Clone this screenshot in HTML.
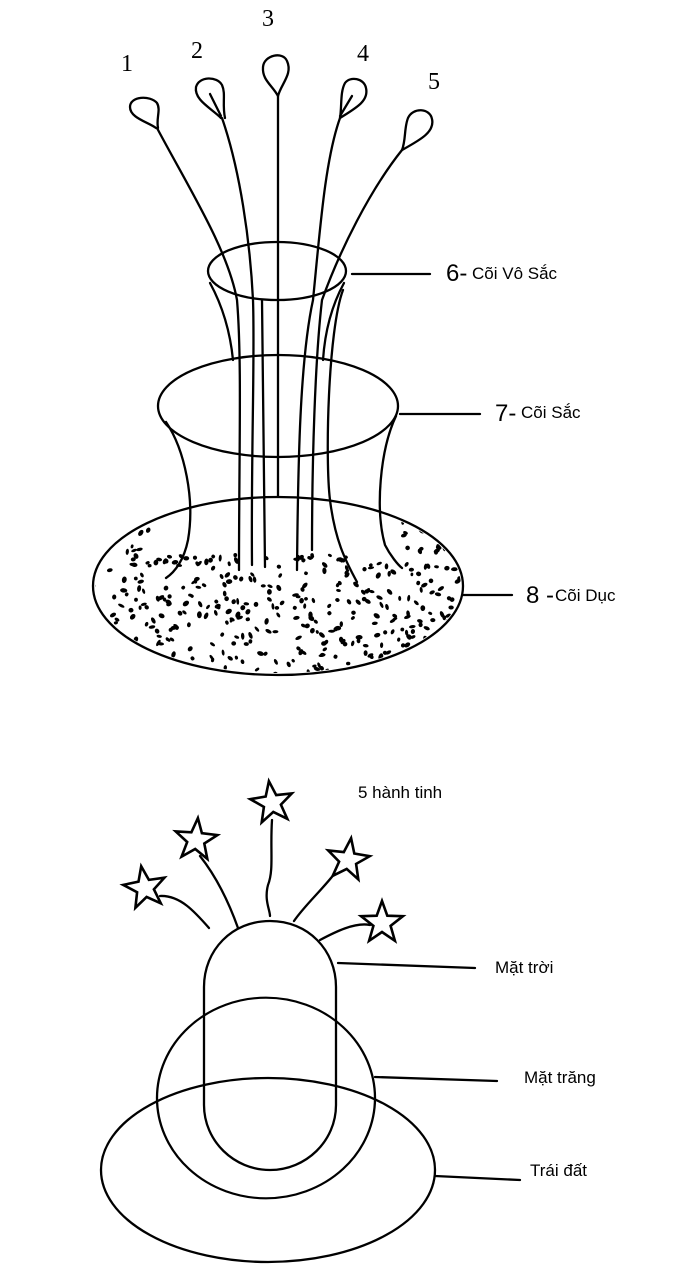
<!DOCTYPE html>
<html><head><meta charset="utf-8"><style>
html,body{margin:0;padding:0;background:#fff}
svg{display:block}
.n{font-family:"Liberation Serif",serif;font-size:24px}
.l{font-family:"Liberation Sans",sans-serif;font-size:17px}
.b{font-family:"Liberation Sans",sans-serif;font-size:24px}
</style></head><body>
<svg id="s" width="700" height="1274" viewBox="0 0 700 1274" xmlns="http://www.w3.org/2000/svg" fill="none" stroke="#000" stroke-width="2.3" stroke-linecap="round">
<defs><clipPath id="c8"><ellipse cx="278" cy="586" rx="183" ry="87"/></clipPath></defs>
<g id="dots" clip-path="url(#c8)" fill="#000" stroke="none"></g>
<g class="n" fill="#000" stroke="none" text-anchor="middle">
<text x="127" y="71">1</text><text x="197" y="58">2</text><text x="268" y="26">3</text><text x="363" y="61">4</text><text x="434" y="89">5</text>
</g>
<path d="M156,128 C148,122 130,118 130,107 C130,96 150,95 157,103 C161,110 156,118 158,128"/>
<path d="M221,118 C211,108 194,100 196,87 C199,76 217,76 222,85 C226,94 222,104 225,118 M210,94 L221,116"/>
<path d="M278,96 C272,85 262,80 263,67 C264,55 283,51 287,61 C293,74 281,84 278,96"/>
<path d="M340,118 C342,106 340,92 345,83 C350,76 364,78 366,88 C369,101 356,108 340,118 M352,96 L340,116"/>
<path d="M402,150 C406,140 404,128 408,118 C413,107 430,108 432,119 C435,132 420,140 402,150"/>
<path d="M157,128 C190,190 228,250 237,300 C242,360 239,450 239,570"/>
<path d="M222,118 C240,170 250,240 253,300 C255,360 251,450 252,565"/>
<path d="M278,96 L278,497"/>
<path d="M340,118 C325,160 320,230 313,300 C300,360 298,460 297,570"/>
<path d="M402,150 C370,190 340,250 322,300 C315,360 312,460 312,550"/>
<path d="M343,290 C328,330 325,460 330,500 C335,540 345,560 357,582"/>
<path d="M262,300 L265,567"/>
<ellipse cx="277" cy="271" rx="69" ry="29"/>
<path d="M210,283 C222,305 230,330 233,360"/>
<path d="M344,283 C332,305 325,330 323,360"/>
<ellipse cx="278" cy="406" rx="120" ry="51"/>
<path d="M166,422 C185,450 195,500 188,540 C184,560 175,572 166,578"/>
<path d="M396,416 C380,450 375,510 385,545 C390,555 398,565 402,568"/>
<ellipse cx="278" cy="586" rx="185" ry="89"/>
<line x1="352" y1="274" x2="430" y2="274"/>
<line x1="400" y1="414" x2="480" y2="414"/>
<line x1="463" y1="595" x2="512" y2="595"/>
<g fill="#000" stroke="none">
<text class="b" x="446" y="281">6-</text><text class="l" x="472" y="279">Cõi Vô Sắc</text>
<text class="b" x="495" y="421">7-</text><text class="l" x="521" y="418">Cõi Sắc</text>
<text class="b" x="526" y="603">8 -</text><text class="l" x="555" y="601">Cõi Dục</text>
<text class="l" x="358" y="798">5 hành tinh</text>
<text class="l" x="495" y="973">Mặt trời</text>
<text class="l" x="524" y="1083">Mặt trăng</text>
<text class="l" x="530" y="1176">Trái đất</text>
</g>
<path d="M204,987 C204,950 232,921 270,921 C308,921 336,950 336,987 L336,1105 C336,1141 306,1170 270,1170 C234,1170 204,1141 204,1105 Z"/>
<circle cx="266" cy="1098" r="109" transform="translate(266 1098) scale(1 0.92) translate(-266 -1098)"/>
<ellipse cx="268" cy="1170" rx="167" ry="92"/>
<line x1="338" y1="963" x2="475" y2="968"/>
<line x1="375" y1="1077" x2="497" y2="1081"/>
<line x1="435" y1="1176" x2="520" y2="1180"/>
<path d="M160,896 C180,895 195,912 209,928"/>
<path d="M200,856 C215,875 228,900 238,928"/>
<path d="M272,820 C270,850 274,870 268,885 C264,900 270,910 270,916"/>
<path d="M335,873 C322,890 305,905 294,921"/>
<path d="M370,925 C355,922 335,932 320,940"/>
<g id="stars"></g>
</svg>
<script>
(function(){
var ns="http://www.w3.org/2000/svg";
var st=[[145,888,-10],[196,840,5],[272,803,-8],[348,860,8],[382,923,0]];
var g=document.getElementById('stars');
st.forEach(function(s){var p=[];for(var i=0;i<10;i++){var r=i%2?9:22;var a=(s[2]-90+i*36)*Math.PI/180;p.push((s[0]+r*Math.cos(a)).toFixed(1)+','+(s[1]+r*Math.sin(a)).toFixed(1));}
var e=document.createElementNS(ns,'polygon');e.setAttribute('points',p.join(' '));e.setAttribute('fill','#fff');e.setAttribute('stroke-width','2.6');e.setAttribute('stroke-linejoin','miter');g.appendChild(e);});
var d=document.getElementById('dots');var seed=11;function rnd(){seed=(seed*16807)%2147483647;return seed/2147483647;}
for(var i=0;i<1400&&d.childNodes.length<330;i++){var x=93+rnd()*370,y=497+rnd()*178;var dx=(x-278)/185,dy=(y-586)/89;if(dx*dx+dy*dy>1)continue;
if(y<555&&Math.abs(x-278)<120)continue; if(y<545&&rnd()<0.6)continue;
var e=document.createElementNS(ns,'ellipse');e.setAttribute('cx',x.toFixed(1));e.setAttribute('cy',y.toFixed(1));e.setAttribute('rx',(1.4+rnd()*1.0).toFixed(1));e.setAttribute('ry',(1.8+rnd()*1.8).toFixed(1));e.setAttribute('transform','rotate('+Math.floor(rnd()*180)+' '+x.toFixed(1)+' '+y.toFixed(1)+')');d.appendChild(e);}
})();
</script>
</body></html>
